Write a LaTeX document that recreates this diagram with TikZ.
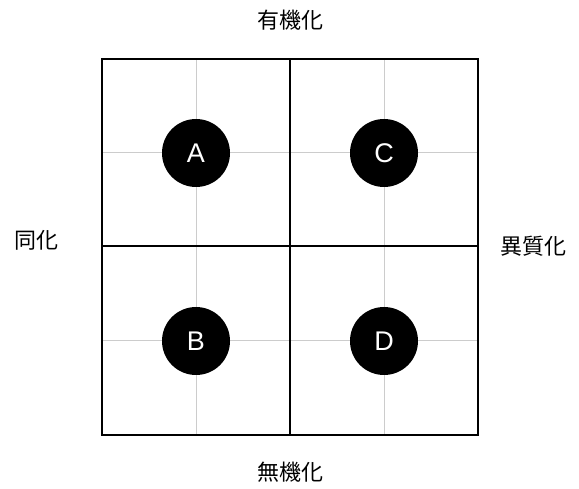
\documentclass[tikz,border=0pt]{standalone}
\usepackage{fontspec}
\setmainfont{Liberation Sans}
\newfontfamily\cjk{Noto Sans CJK JP}
\begin{document}
\begin{tikzpicture}[x=1pt,y=-1pt,
  gridline/.style={draw=black!20,line width=1pt},
  mainline/.style={draw=black,line width=1.4pt},
  dot/.style={circle,fill=black,minimum size=68pt,inner sep=0pt,text=white,font=\fontsize{27}{30}\selectfont},
  lab/.style={font=\cjk\fontsize{22}{24}\selectfont,inner sep=0pt}]
\useasboundingbox (0,0) rectangle (579,489);
% grey grid
\draw[gridline] (196,59) -- (196,435);
\draw[gridline] (384,59) -- (384,435);
\draw[gridline] (102,153) -- (478,153);
\draw[gridline] (102,341) -- (478,341);
% main frame
\draw[mainline] (102,59) rectangle (478,435);
\draw[mainline] (290,59) -- (290,435);
\draw[mainline] (102,246) -- (478,246);
% circles
\node[dot] (A) at (196,153) {A};
\node[dot] (C) at (384,153) {C};
\node[dot] (B) at (196,341) {B};
\node[dot] (D) at (384,341) {D};
% labels
\node[lab] (top) at (290,20) {有機化};
\node[lab] (bottom) at (290,472) {無機化};
\node[lab] (left) at (36,240) {同化};
\node[lab] (right) at (533,246) {異質化};
\end{tikzpicture}
\end{document}
